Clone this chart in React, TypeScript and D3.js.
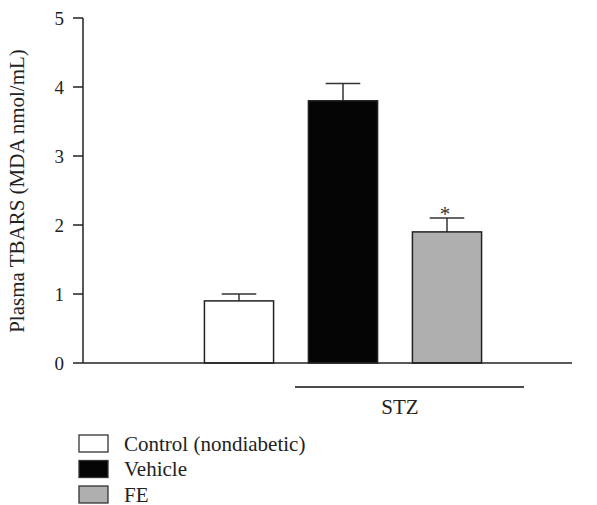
import React from 'react';
import * as d3 from 'd3';

const groups = ['Control (nondiabetic)', 'Vehicle', 'FE'];
const means = [0.9, 3.8, 1.9];
const sems = [0.1, 0.25, 0.2];
const fills = ['#ffffff', '#050505', '#afafb0'];
const marks = ['', '', '*'];
const yTicks = [0, 1, 2, 3, 4, 5];
const yTitle = 'Plasma TBARS (MDA nmol/mL)';
const bracketLabel = 'STZ';

const W = 597;
const H = 505;
const font = '"Liberation Serif", "Times New Roman", serif';

export default function App() {
    const left = 83;
    const y = d3.scaleLinear().domain([0, 5]).range([363, 18]);
    const x = d3.scalePoint()
        .domain(['', ...groups])
        .range([left, left + 416])
        .padding(0.5);
    const bw = x.step() * 0.665;
    const capW = bw / 2;
    const axisEnd = 572;

    const vx = x('Vehicle');
    const fx = x('FE');

    return (
        <svg width={W} height={H} style={{ position: 'absolute', left: 0, top: 0, background: '#fff' }}
            fontFamily={font}>
            {/* y axis */}
            <line x1={left} x2={left} y1={y(5)} y2={y(0)} stroke="#222" strokeWidth={1.5} />
            {yTicks.map((t) => (
                <g key={t}>
                    <line x1={left - 10} x2={left} y1={y(t)} y2={y(t)} stroke="#222" strokeWidth={1.5} />
                    <text x={left - 19} y={y(t)} dy="0.35em" textAnchor="end" fontSize={19} fill="#222">{t}</text>
                </g>
            ))}
            <text transform={`translate(24, 191) rotate(-90)`} textAnchor="middle"
                fontSize={21} fill="#222">{yTitle}</text>

            {/* bars */}
            {groups.map((g, i) => {
                const cx = x(g);
                return (
                    <g key={g}>
                        <line x1={cx} x2={cx} y1={y(means[i])} y2={y(means[i] + sems[i])} stroke="#333" strokeWidth={1.5} />
                        <line x1={cx - capW / 2} x2={cx + capW / 2} y1={y(means[i] + sems[i])} y2={y(means[i] + sems[i])}
                            stroke="#333" strokeWidth={1.5} />
                        <rect x={cx - bw / 2} y={y(means[i])} width={bw} height={y(0) - y(means[i])}
                            fill={fills[i]} stroke="#222" strokeWidth={1.5} />
                        {marks[i] && (
                            <text x={cx - 2} y={y(means[i] + sems[i]) + 3} textAnchor="middle" fontSize={21} fill="#333">{marks[i]}</text>
                        )}
                    </g>
                );
            })}

            {/* x axis */}
            <line x1={left} x2={axisEnd} y1={y(0)} y2={y(0)} stroke="#222" strokeWidth={1.5} />

            {/* STZ bracket */}
            <line x1={vx - 48} x2={fx + 77} y1={387} y2={387} stroke="#111" strokeWidth={1.3} />
            <text x={(vx + fx) / 2 + 5} y={414} textAnchor="middle" fontSize={21} fill="#222">{bracketLabel}</text>

            {/* legend */}
            {groups.map((g, i) => (
                <g key={g} transform={`translate(79, ${435 + i * 25.5})`}>
                    <rect x={0} y={0} width={29} height={17} fill={fills[i]} stroke="#333" strokeWidth={1.3} />
                    <text x={45} y={8.5} dy="0.35em" fontSize={21} fill="#222">{g}</text>
                </g>
            ))}
        </svg>
    );
}
